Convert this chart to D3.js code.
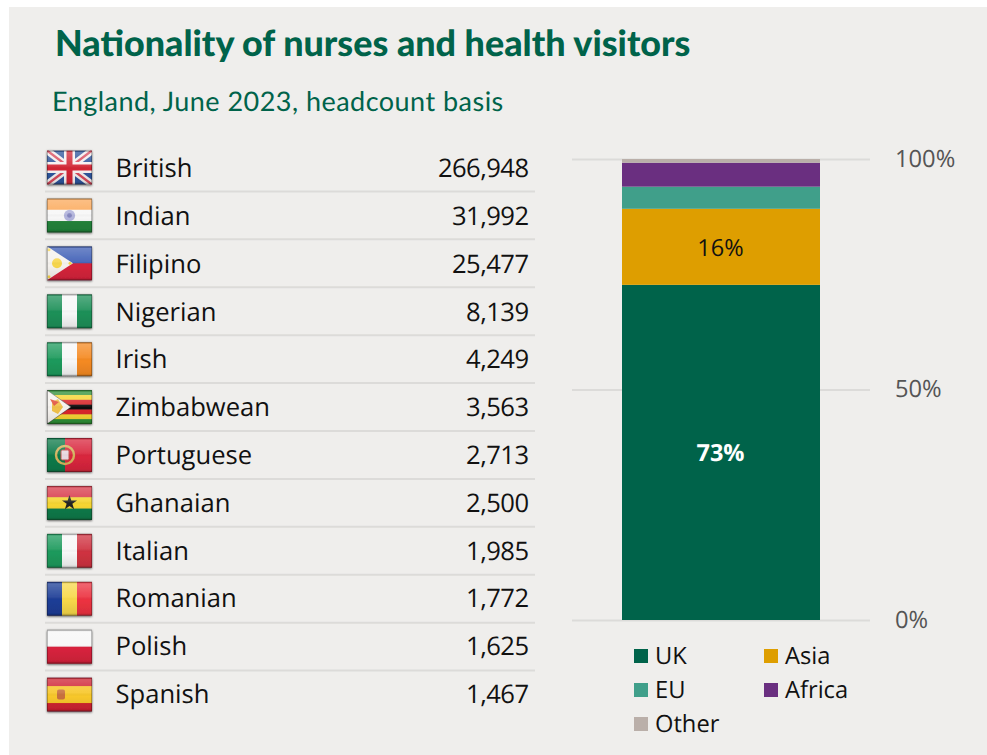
<!DOCTYPE html>
<html><head><meta charset="utf-8">
<script src="https://cdn.jsdelivr.net/npm/d3@7"></script>
<style>
html,body{margin:0;padding:0;background:#fff;overflow:hidden}
svg{display:block}
text{font-family:"Open Sans",sans-serif;text-rendering:geometricPrecision}
</style></head><body>
<svg id="chart" width="987" height="755"></svg>
<script>
const titleText = "Nationality of nurses and health visitors";
const subtitleText = "England, June 2023, headcount basis";
const nationalities = ["British","Indian","Filipino","Nigerian","Irish","Zimbabwean","Portuguese","Ghanaian","Italian","Romanian","Polish","Spanish"];
const headcounts = [266948,31992,25477,8139,4249,3563,2713,2500,1985,1772,1625,1467];
const regions = ["UK","Asia","EU","Africa","Other"];
const regionShares = [72.7,16.5,4.8,5.2,0.8];
const regionLabels = ["73%","16%","","",""];
const axisTicks = [0,50,100];

const GREEN="#00634a";
const regionColors = ["#00634a","#de9e00","#409f8a","#6a2f80","#baafa9"];
const svg = d3.select("#chart");
const defs = svg.append("defs");

const gloss = defs.append("linearGradient").attr("id","gloss").attr("x1",0).attr("y1",0).attr("x2",0).attr("y2",1);
[[0,"#000",0.15],[0.06,"#fff",0.25],[0.45,"#fff",0.08],[0.55,"#000",0],[0.92,"#000",0.08],[1,"#000",0.28]]
 .forEach(s=>gloss.append("stop").attr("offset",s[0]).attr("stop-color",s[1]).attr("stop-opacity",s[2]));
const shadow = defs.append("filter").attr("id","fshadow").attr("x","-10%").attr("y","-10%").attr("width","120%").attr("height","125%");
shadow.append("feDropShadow").attr("dx",0).attr("dy",0.8).attr("stdDeviation",1).attr("flood-color","#000").attr("flood-opacity",0.65);
const soft = defs.append("filter").attr("id","soft");
soft.append("feGaussianBlur").attr("stdDeviation",0.6);
defs.append("clipPath").attr("id","flagclip").append("rect").attr("width",45).attr("height",34);

svg.append("rect").attr("x",9).attr("y",7).attr("width",978).attr("height",748).attr("fill","#efeeec");

svg.append("text").attr("x",55).attr("y",55.5).attr("fill",GREEN)
  .style("font-family","Lato,sans-serif").style("font-weight",900).style("font-size","35.9px").text(titleText);
svg.append("text").attr("x",52).attr("y",111).attr("fill",GREEN)
  .style("font-family","Lato,sans-serif").style("font-size","27px").style("letter-spacing","0.47px").text(subtitleText);

/* Flag painters work in a 45×34 box */
function bands(g,dir,cols){
  const s=d3.scaleBand().domain(d3.range(cols.length)).range(dir==="h"?[0,34]:[0,45]);
  cols.forEach((c,i)=>{
    const r=g.append("rect").attr("fill",c);
    if(dir==="h") r.attr("x",0).attr("width",45).attr("y",s(i)).attr("height",s.bandwidth()+0.3);
    else r.attr("y",0).attr("height",34).attr("x",s(i)).attr("width",s.bandwidth()+0.3);
  });
}
const flagPainters = {
  British(g){
    g.append("rect").attr("width",45).attr("height",34).attr("fill","#2f549c");
    const line=(d,c,w)=>g.append("path").attr("d",d).attr("stroke",c).attr("stroke-width",w).attr("fill","none");
    line("M0,0L45,34M45,0L0,34","#f2eeee",7);
    line("M0,0L45,34M45,0L0,34","#d8485a",2.2);
    line("M22.5,0V34M0,17H45","#f6f1f1",11);
    line("M22.5,0V34M0,17H45","#d32636",6);
  },
  Indian(g){
    bands(g,"h",["#fba95a","#f7f7f7","#23843a"]);
    g.append("circle").attr("cx",22.5).attr("cy",17).attr("r",5.6).attr("fill","#b2b4dc");
    g.append("circle").attr("cx",22.5).attr("cy",17).attr("r",2.4).attr("fill","#8587c0");
  },
  Filipino(g){
    bands(g,"h",["#3d5db5","#d6203a"]);
    g.append("path").attr("d","M0,0L26,17L0,34Z").attr("fill","#f5f2ee");
    g.append("circle").attr("cx",10).attr("cy",17).attr("r",5).attr("fill","#f7d64e");
    [[2,3.5],[2,30.5],[23,17]].forEach(p=>g.append("circle").attr("cx",p[0]).attr("cy",p[1]).attr("r",1.5).attr("fill","#f7d64e"));
  },
  Nigerian(g){ bands(g,"v",["#1f9058","#f7f7f7","#1f9058"]); },
  Irish(g){ bands(g,"v",["#1f9a5c","#f7f7f7","#f58a22"]); },
  Zimbabwean(g){
    bands(g,"h",["#2d8f36","#f5d531","#d8262c","#111111","#d8262c","#f5d531","#2d8f36"]);
    g.append("path").attr("d","M0,0L24,17L0,34Z").attr("fill","#f5f2ee").attr("stroke","#333").attr("stroke-width",0.5);
    g.append("path").attr("d","M5,12L11,9L16,17L11,24L5,21Z").attr("fill","#f0c04a");
    g.append("path").attr("d","M3,9L12,12L7,16Z").attr("fill","#e0503a");
  },
  Portuguese(g){
    g.append("rect").attr("width",45).attr("height",34).attr("fill","#d9263c");
    g.append("rect").attr("width",18).attr("height",34).attr("fill","#107a48");
    g.append("circle").attr("cx",18).attr("cy",17).attr("r",9).attr("fill","none").attr("stroke","#d4b25c").attr("stroke-width",2.4);
    g.append("rect").attr("x",14).attr("y",12).attr("width",8).attr("height",10).attr("rx",1.5).attr("fill","#e8d8e0").attr("stroke","#c0504a").attr("stroke-width",1);
  },
  Ghanaian(g){
    bands(g,"h",["#d8394a","#f5d531","#107a48"]);
    g.append("path").attr("d",d3.symbol(d3.symbolStar,70)()).attr("transform","translate(22.5,17)").attr("fill","#222");
  },
  Italian(g){ bands(g,"v",["#1f9a5c","#f7f7f7","#cf3240"]); },
  Romanian(g){ bands(g,"v",["#1c3d96","#f7d84a","#ec3040"]); },
  Polish(g){ bands(g,"h",["#f7f7f7","#d8203e"]); },
  Spanish(g){
    g.append("rect").attr("width",45).attr("height",34).attr("fill","#cf2030");
    g.append("rect").attr("y",8.5).attr("width",45).attr("height",17).attr("fill","#f7c72c");
    g.append("rect").attr("x",10).attr("y",12).attr("width",8).attr("height",10).attr("rx",2).attr("fill","#c8703c");
  }
};

const rowY = d3.scaleBand().domain(nationalities).range([143.5,718.5]);
const textY = d3.scaleBand().domain(nationalities).range([144.2,717.8]);
const rows = svg.selectAll("g.row").data(nationalities).join("g").attr("class","row")
  .attr("transform",d=>`translate(0,${rowY(d)})`);
rows.filter((d,i)=>i<nationalities.length-1).append("line")
  .attr("x1",45).attr("x2",535).attr("y1",rowY.bandwidth()).attr("y2",rowY.bandwidth())
  .attr("stroke","#dcdbd9").attr("stroke-width",2);
const fmt = d3.format(",");
svg.selectAll("text.name").data(nationalities).join("text").attr("class","name")
  .attr("x",115.5).attr("y",d=>textY(d)+textY.bandwidth()/2+9)
  .attr("fill","#111").style("font-size","25.6px").text(d=>d);
svg.selectAll("text.count").data(nationalities).join("text").attr("class","count")
  .attr("x",528.5).attr("y",d=>textY(d)+textY.bandwidth()/2+9).attr("text-anchor","end")
  .attr("fill","#111").style("font-size","25.6px").style("letter-spacing","-0.55px").text((d,i)=>fmt(headcounts[i]));
rows.each(function(d){
  const holder=d3.select(this).append("g").attr("transform","translate(47,7)");
  const g=holder.append("g").attr("filter","url(#fshadow)");
  const inner=g.append("g").attr("clip-path","url(#flagclip)").append("g").attr("filter","url(#soft)");
  flagPainters[d](inner);
  g.append("rect").attr("width",45).attr("height",34).attr("fill","url(#gloss)");
  g.append("rect").attr("x",0.5).attr("y",0.5).attr("width",44).attr("height",33).attr("fill","none").attr("stroke","#000").attr("stroke-opacity",0.25);
});

/* Stacked bar */
const y = d3.scaleLinear().domain([0,100]).range([620,159]);
const axis = d3.axisRight(y).tickValues(axisTicks).tickSize(298).tickPadding(25).tickFormat(d=>d+"%");
const ag = svg.append("g").attr("transform","translate(572,0)").call(axis);
ag.select(".domain").remove();
ag.selectAll("line").attr("stroke","#dcdbd9").attr("stroke-width",2);
ag.selectAll("text").attr("fill","#555").style("font-size","23.7px").style("font-family",'"Open Sans",sans-serif').attr("dy","0.3em");

let acc=0;
const stack = regions.map((r,i)=>{const s={name:r,v0:acc,v1:acc+regionShares[i],color:regionColors[i],label:regionLabels[i]};acc=s.v1;return s;});
const barX = d3.scaleBand().domain(["all"]).range([622,820]);
svg.selectAll("rect.seg").data(stack).join("rect").attr("class","seg")
  .attr("x",barX("all")).attr("width",barX.bandwidth())
  .attr("y",d=>y(d.v1)).attr("height",d=>y(d.v0)-y(d.v1)).attr("fill",d=>d.color);
svg.selectAll("text.seglab").data(stack.filter(d=>d.label)).join("text").attr("class","seglab")
  .attr("x",720.5).attr("y",d=>y((d.v0+d.v1)/2)+0.8).attr("dy","0.35em").attr("text-anchor","middle")
  .attr("fill",(d,i)=>i===0?"#fff":"#111")
  .style("font-size","23.5px").style("font-weight",(d,i)=>i===0?700:400).text(d=>d.label);

/* Legend */
const legendOrder = ["UK","Asia","EU","Africa","Other"];
const lx = d3.scalePoint().domain([0,1]).range([634,764]);
const ly = d3.scalePoint().domain([0,1,2]).range([656,724]);
const lg = svg.selectAll("g.leg").data(legendOrder).join("g").attr("class","leg")
  .attr("transform",(d,i)=>`translate(${lx(i%2)},${ly(Math.floor(i/2))})`);
lg.append("rect").attr("x",0).attr("y",-7).attr("width",14).attr("height",14).attr("fill",d=>regionColors[regions.indexOf(d)]);
lg.append("text").attr("x",21).attr("y",8.3).attr("fill","#111").style("font-size","23.7px").text(d=>d);
</script>
</body></html>
